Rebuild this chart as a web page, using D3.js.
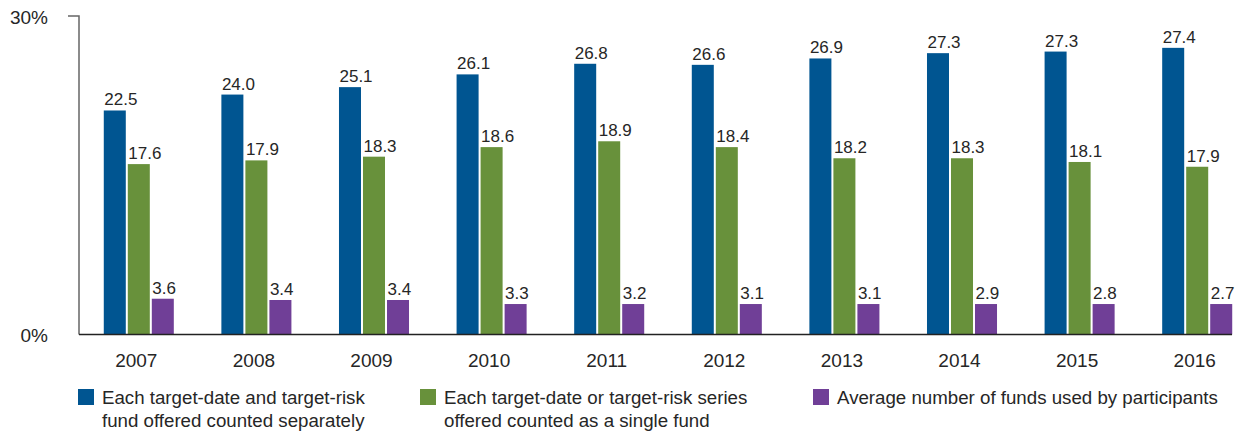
<!DOCTYPE html>
<html>
<head>
<meta charset="utf-8">
<script src="https://cdn.jsdelivr.net/npm/d3@7/dist/d3.min.js"></script>
<style>
  html, body { margin: 0; padding: 0; background: #fff; }
  svg { display: block; font-family: "Liberation Sans", Arial, sans-serif; }
</style>
</head>
<body>
<svg id="chart" width="1240" height="434"></svg>
<script>
// ---- Data ----
const years = ["2007","2008","2009","2010","2011","2012","2013","2014","2015","2016"];
const seriesKeys = ["separate", "single", "used"];
const seriesNames = [
  ["Each target-date and target-risk", "fund offered counted separately"],
  ["Each target-date or target-risk series", "offered counted as a single fund"],
  ["Average number of funds used by participants"]
];
// bar heights as drawn in the picture (percent)
const separateBars = [21.1, 22.6, 23.3, 24.5, 25.5, 25.4, 26.0, 26.5, 26.65, 27.0];
const singleBars   = [16.05, 16.4, 16.75, 17.65, 18.2, 17.65, 16.6, 16.6, 16.25, 15.8];
const usedBars     = [3.37, 3.25, 3.25, 2.87, 2.87, 2.87, 2.87, 2.87, 2.87, 2.87];
// value labels printed above the bars
const separateLabels = ["22.5","24.0","25.1","26.1","26.8","26.6","26.9","27.3","27.3","27.4"];
const singleLabels   = ["17.6","17.9","18.3","18.6","18.9","18.4","18.2","18.3","18.1","17.9"];
const usedLabels     = ["3.6","3.4","3.4","3.3","3.2","3.1","3.1","2.9","2.8","2.7"];
const yTicks = [0, 30];
const colors = ["#005591", "#68913b", "#703f97"];

const barData = [separateBars, singleBars, usedBars];
const labelData = [separateLabels, singleLabels, usedLabels];

// ---- Scales ----
const svg = d3.select("#chart");
const y = d3.scaleLinear().domain([0, 30]).range([334.5, 16]);
const x0 = d3.scaleBand().domain(years).range([80, 1256]).paddingInner(0.4045).paddingOuter(0.2022);
const x1 = d3.scaleBand().domain(seriesKeys).range([0, x0.bandwidth()]).paddingInner(1/12);
const color = d3.scaleOrdinal().domain(seriesKeys).range(colors);

const textColor = "#262626";

// ---- Bars ----
const groups = svg.append("g").selectAll("g")
  .data(years)
  .join("g")
  .attr("transform", d => `translate(${x0(d)},0)`);

groups.selectAll("rect")
  .data((d, i) => seriesKeys.map((k, s) => ({ key: k, v: barData[s][i], label: labelData[s][i] })))
  .join("rect")
  .attr("x", d => x1(d.key))
  .attr("y", d => y(d.v))
  .attr("width", x1.bandwidth())
  .attr("height", d => y(0) - y(d.v))
  .attr("fill", d => color(d.key));

groups.selectAll("text.val")
  .data((d, i) => seriesKeys.map((k, s) => ({ key: k, v: barData[s][i], label: labelData[s][i] })))
  .join("text")
  .attr("class", "val")
  .attr("x", d => x1(d.key) + 0.5)
  .attr("y", d => y(d.v) - 5)
  .attr("font-size", 17)
  .attr("fill", textColor)
  .text(d => d.label);

// ---- Axes ----
const xAxis = d3.axisBottom(x0).tickSize(0).tickSizeOuter(0);
const gx = svg.append("g").attr("transform", `translate(-2.5,${y(0)})`).call(xAxis);
gx.select(".domain").remove();
gx.selectAll("text")
  .attr("dy", null)
  .attr("y", 32.5)
  .attr("font-size", 19)
  .attr("font-family", "Liberation Sans, Arial, sans-serif")
  .attr("fill", textColor);

const yAxis = d3.axisLeft(y).tickValues(yTicks).tickFormat(d => d + "%").tickSize(0);
const gy = svg.append("g").attr("transform", "translate(48,0)").call(yAxis);
gy.select(".domain").remove();
gy.selectAll("text")
  .attr("x", 0)
  .attr("dy", "0.37em")
  .attr("font-size", 19)
  .attr("font-family", "Liberation Sans, Arial, sans-serif")
  .attr("fill", textColor);

// axis lines
svg.append("path")
  .attr("d", `M68,${y(30)}H79V${y(0)}`)
  .attr("fill", "none")
  .attr("stroke", "#666")
  .attr("stroke-width", 1.5);
svg.append("line")
  .attr("x1", 79).attr("x2", 1232)
  .attr("y1", y(0)).attr("y2", y(0))
  .attr("stroke", "#222")
  .attr("stroke-width", 1.5);

// ---- Legend ----
const legendX = [78, 420, 813];
const legend = svg.append("g").selectAll("g")
  .data(seriesKeys)
  .join("g")
  .attr("transform", (d, i) => `translate(${legendX[i]},389)`);
legend.append("rect")
  .attr("width", 16).attr("height", 16)
  .attr("fill", d => color(d));
legend.each(function(d, i) {
  const t = d3.select(this).append("text")
    .attr("font-size", 18.7)
    .attr("fill", textColor);
  seriesNames[i].forEach((line, j) => {
    t.append("tspan").attr("x", 24).attr("y", 15 + j * 23).text(line);
  });
});
</script>
</body>
</html>
